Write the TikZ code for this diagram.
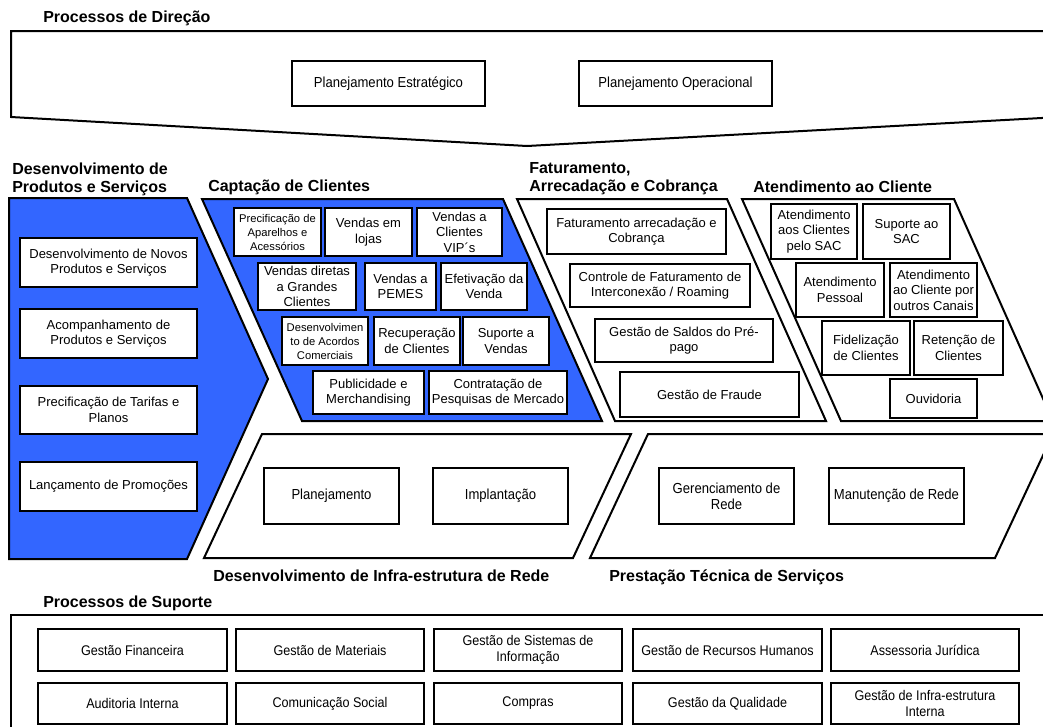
\documentclass[tikz,border=0pt]{standalone}
\usepackage{fontspec}
\setmainfont{Liberation Sans}
\newfontfamily\narrowfont{Liberation Sans}[FakeStretch=0.9]
\definecolor{capblue}{HTML}{3366FF}
\tikzset{
  outline/.style={draw=black, line width=1.5pt, line join=miter},
  bluearea/.style={outline, fill=capblue},
  boxreg/.style={draw=black, line width=1pt, fill=white, inner sep=0pt, align=center,
    font=\fontsize{9.75pt}{11.6pt}\selectfont},
  boxsmall/.style={boxreg, font=\fontsize{8.4pt}{10.5pt}\selectfont},
  boxnarrow/.style={boxreg, font=\narrowfont\fontsize{10.9pt}{11.8pt}\selectfont},
  boxsup/.style={boxreg, font=\narrowfont\fontsize{10.5pt}{12pt}\selectfont},
  heading/.style={anchor=west, inner sep=0pt, align=left,
    font=\bfseries\fontsize{12pt}{13.5pt}\selectfont},
}
% style, name, x1, y1, x2, y2, text  (coordinates in pixels)
\newcommand\drawbox[7]{%
  \node[#1, minimum width={(#5-#3)*0.75pt}, minimum height={(#6-#4)*0.75pt}]
    (#2) at ({(#3+#5)/2},{(#4+#6)/2}) {#7};}
\begin{document}
\begin{tikzpicture}[x=0.75pt, y=-0.75pt]
\useasboundingbox (0,0) rectangle (1043,726);
\fill[white] (0,0) rectangle (1043,726);

% ---------- Processos de Direcao ----------
\node[heading] (hdir) at (43,18) {Processos de Direção};
\draw[outline] (1060,31) -- (11,31) -- (11,117) -- (527,146) -- (1060,117);
\drawbox{boxnarrow}{pe}{292}{61}{485}{106}{Planejamento Estratégico}
\drawbox{boxnarrow}{po}{579}{61}{772}{106}{Planejamento Operacional}

% ---------- Section shapes ----------
\draw[bluearea] (9,198) -- (187,198) -- (268,379) -- (187,559) -- (9,559) -- cycle;
\draw[bluearea] (202,199) -- (503,199) -- (602,421) -- (302,421) -- cycle;
\draw[outline, fill=white] (517,199) -- (727,199) -- (826,421) -- (615,421) -- cycle;
\draw[outline, fill=white] (742,199) -- (954,199) -- (1053,421) -- (841,421) -- cycle;
\draw[outline, fill=white] (262,434) -- (631,434) -- (573,558) -- (204,558) -- cycle;
\draw[outline, fill=white] (648,434) -- (1053,434) -- (995,558) -- (590,558) -- cycle;

% ---------- Headings ----------
\node[heading] (hdev) at (12,179) {Desenvolvimento de\\Produtos e Serviços};
\node[heading] (hcap) at (208,187) {Captação de Clientes};
\node[heading] (hfat) at (529,179) {Faturamento,\\Arrecadação e Cobrança};
\node[heading] (hate) at (753,187) {Atendimento ao Cliente};
\node[heading] (hinf) at (213,576) {Desenvolvimento de Infra-estrutura de Rede};
\node[heading] (hpre) at (609,577) {Prestação Técnica de Serviços};
\node[heading] (hsup) at (43,603) {Processos de Suporte};

% ---------- Desenvolvimento de Produtos ----------
\drawbox{boxreg}{l1}{20}{238}{197}{287}{Desenvolvimento de Novos\\Produtos e Serviços}
\drawbox{boxreg}{l2}{20}{309}{197}{358}{Acompanhamento de\\Produtos e Serviços}
\drawbox{boxreg}{l3}{20}{386}{197}{434}{Precificação de Tarifas e\\Planos}
\drawbox{boxreg}{l4}{20}{462}{197}{511}{Lançamento de Promoções}

% ---------- Captacao de Clientes ----------
\drawbox{boxsmall}{c1}{234}{208}{321}{256}{Precificação de\\Aparelhos e\\Acessórios}
\drawbox{boxreg}{c2}{325}{208}{412}{256}{Vendas em\\lojas}
\drawbox{boxreg}{c3}{417}{208}{502}{256}{Vendas a\\Clientes\\VIP´s}
\drawbox{boxreg}{c4}{258}{263}{356}{310}{Vendas diretas\\a Grandes\\Clientes}
\drawbox{boxreg}{c5}{365}{263}{436}{310}{Vendas a\\PEMES}
\drawbox{boxreg}{c6}{441}{263}{527}{310}{Efetivação da\\Venda}
\drawbox{boxsmall}{c7}{282}{317}{368}{365}{Desenvolvimen\\to de Acordos\\Comerciais}
\drawbox{boxreg}{c8}{374}{317}{460}{365}{Recuperação\\de Clientes}
\drawbox{boxreg}{c9}{463}{317}{549}{365}{Suporte a\\Vendas}
\drawbox{boxreg}{c10}{313}{371}{424}{414}{Publicidade e\\Merchandising}
\drawbox{boxreg}{c11}{429}{371}{567}{414}{Contratação de\\Pesquisas de Mercado}

% ---------- Faturamento ----------
\drawbox{boxreg}{f1}{547}{209}{726}{254}{Faturamento arrecadação e\\Cobrança}
\drawbox{boxreg}{f2}{570}{264}{750}{307}{Controle de Faturamento de\\Interconexão / Roaming}
\drawbox{boxreg}{f3}{595}{319}{773}{362}{Gestão de Saldos do Pré-\\pago}
\drawbox{boxreg}{f4}{620}{372}{799}{417}{Gestão de Fraude}

% ---------- Atendimento ----------
\drawbox{boxreg}{a1}{771}{204}{857}{259}{Atendimento\\aos Clientes\\pelo SAC}
\drawbox{boxreg}{a2}{863}{204}{950}{259}{Suporte ao\\SAC}
\drawbox{boxreg}{a3}{796}{263}{884}{317}{Atendimento\\Pessoal}
\drawbox{boxreg}{a4}{890}{263}{977}{317}{Atendimento\\ao Cliente por\\outros Canais}
\drawbox{boxreg}{a5}{822}{321}{910}{375}{Fidelização\\de Clientes}
\drawbox{boxreg}{a6}{914}{321}{1003}{375}{Retenção de\\Clientes}
\drawbox{boxreg}{a7}{890}{379}{977}{418}{Ouvidoria}

% ---------- Infra-estrutura / Prestacao ----------
\drawbox{boxnarrow}{i1}{264}{468}{399}{524}{Planejamento}
\drawbox{boxnarrow}{i2}{433}{468}{568}{524}{Implantação}
\drawbox{boxnarrow}{p1}{659}{468}{794}{524}{Gerenciamento de\\Rede}
\drawbox{boxnarrow}{p2}{829}{468}{964}{524}{Manutenção de Rede}

% ---------- Processos de Suporte ----------
\draw[outline] (1060,615) -- (11,615) -- (11,740);
\drawbox{boxsup}{s1}{38}{629}{227}{671}{Gestão Financeira}
\drawbox{boxsup}{s2}{236}{629}{424}{671}{Gestão de Materiais}
\drawbox{boxsup}{s3}{434}{629}{622}{671}{Gestão de Sistemas de\\Informação}
\drawbox{boxsup}{s4}{633}{629}{822}{671}{Gestão de Recursos Humanos}
\drawbox{boxsup}{s5}{831}{629}{1019}{671}{Assessoria Jurídica}
\drawbox{boxsup}{s6}{38}{683}{227}{724}{Auditoria Interna}
\drawbox{boxsup}{s7}{236}{683}{424}{724}{Comunicação Social}
\drawbox{boxsup}{s8}{434}{683}{622}{724}{Compras}
\drawbox{boxsup}{s9}{633}{683}{822}{724}{Gestão da Qualidade}
\drawbox{boxsup}{s10}{831}{683}{1019}{724}{Gestão de Infra-estrutura\\Interna}
\end{tikzpicture}
\end{document}
